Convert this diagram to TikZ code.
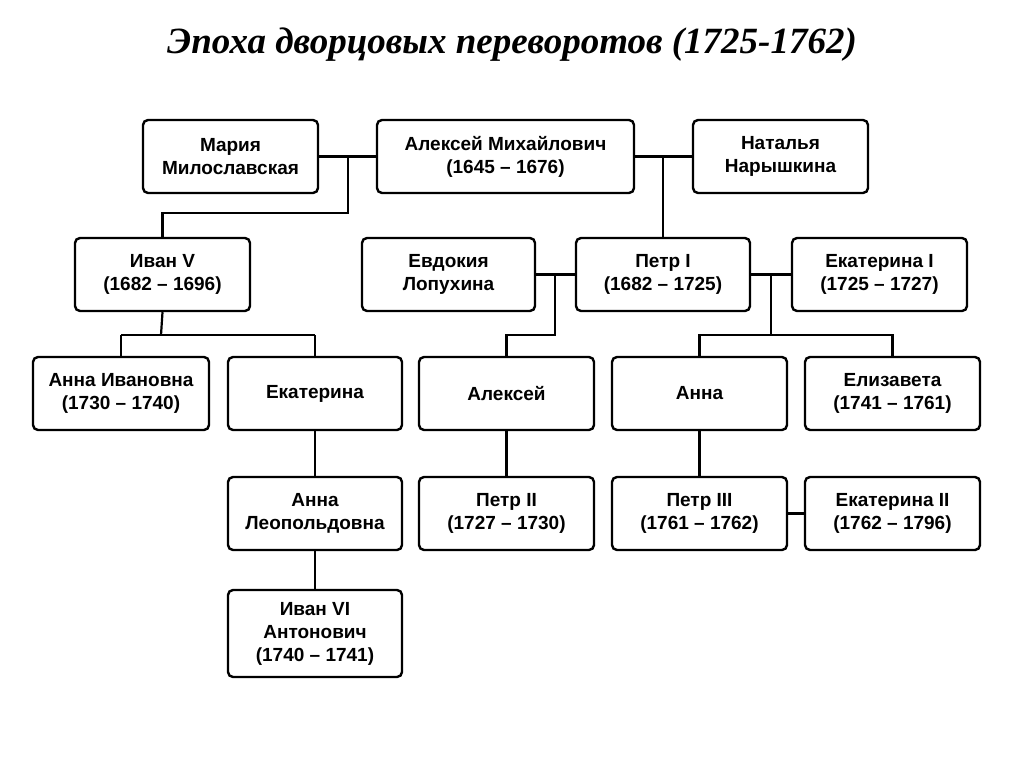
\documentclass[tikz,border=0pt]{standalone}
\usepackage{fontspec}
\setmainfont{Liberation Sans}
\newfontfamily\titlefont{Liberation Serif}
\begin{document}
\begin{tikzpicture}[x=1pt,y=-1pt,
  pbox/.style={draw, line width=2.4pt, rounded corners=5pt, inner sep=0pt, align=center,
    font=\fontsize{19}{23}\selectfont\bfseries},
  ln/.style={line width=2.2pt}]
\useasboundingbox (0,0) rectangle (1024,767);
\node[font=\titlefont\fontsize{37}{40}\selectfont\bfseries\itshape] (title) at (512,45) {Эпоха дворцовых переворотов (1725-1762)};
\newcommand\bx[6]{\node[pbox, minimum width=#4-#2, minimum height=#5-#3] (#1) at ({(#2+#4)/2},{(#3+#5)/2}) {#6};}
\bx{maria}{143}{120}{318}{193}{Мария\\Милославская}
\bx{alexm}{377}{120}{634}{193}{Алексей Михайлович\\(1645 – 1676)}
\bx{nat}{693}{120}{868}{193}{Наталья\\Нарышкина}
\bx{ivan5}{75}{238}{250}{311}{Иван V\\(1682 – 1696)}
\bx{evd}{362}{238}{535}{311}{Евдокия\\Лопухина}
\bx{petr1}{576}{238}{750}{311}{Петр I\\(1682 – 1725)}
\bx{ek1}{792}{238}{967}{311}{Екатерина I\\(1725 – 1727)}
\bx{annai}{33}{357}{209}{430}{Анна Ивановна\\(1730 – 1740)}
\bx{ekat}{228}{357}{402}{430}{Екатерина}
\bx{alex}{419}{357}{594}{430}{Алексей}
\bx{anna}{612}{357}{787}{430}{Анна}
\bx{eliz}{805}{357}{980}{430}{Елизавета\\(1741 – 1761)}
\bx{annal}{228}{477}{402}{550}{Анна\\Леопольдовна}
\bx{petr2}{419}{477}{594}{550}{Петр II\\(1727 – 1730)}
\bx{petr3}{612}{477}{787}{550}{Петр III\\(1761 – 1762)}
\bx{ek2}{805}{477}{980}{550}{Екатерина II\\(1762 – 1796)}
\bx{ivan6}{228}{590}{402}{677}{Иван VI\\Антонович\\(1740 – 1741)}
\draw[ln] (maria) -- (alexm);
\draw[ln] (alexm) -- (nat);
\draw[ln] (348,157) -- (348,213) -| (ivan5.north);
\draw[ln] (663,157) -- (petr1.north -| 663,0);
\draw[ln] (evd) -- (petr1);
\draw[ln] (petr1) -- (ek1);
\draw[ln] (555,274) -- (555,335) -| (alex.north);
\draw[ln] (771,274) -- (771,335) -| (anna.north);
\draw[ln] (771,335) -| (eliz.north);
\draw[ln] (ivan5.south) -- (161,335);
\draw[ln] (121,335) -- (315,335);
\draw[ln] (121,335) -- (annai.north -| 121,0);
\draw[ln] (315,335) -- (ekat.north);
\draw[ln] (ekat) -- (annal);
\draw[ln] (annal) -- (ivan6);
\draw[ln] (alex) -- (petr2);
\draw[ln] (anna) -- (petr3);
\draw[ln] (petr3) -- (ek2);
\end{tikzpicture}
\end{document}
